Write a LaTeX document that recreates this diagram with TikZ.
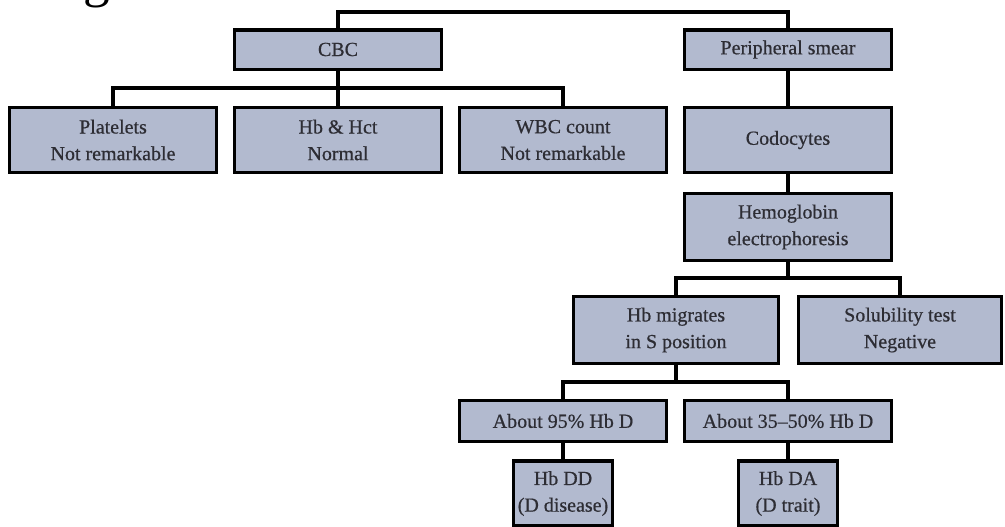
\documentclass[tikz,border=0pt]{standalone}
\usepackage{fontspec}
\setmainfont{Liberation Serif}[BoldFont=Liberation Serif, BoldFeatures={FakeBold=0.6}]
\usepackage{tikz}
\usetikzlibrary{positioning}
\definecolor{boxfill}{RGB}{178,186,207}
\definecolor{inkgray}{RGB}{45,45,52}
\tikzset{
  testnode/.style={draw=black, line width=2.6pt, fill=boxfill, text=inkgray, minimum width=154.9pt, minimum height=29.6pt, inner sep=0pt, align=center, font=\fontsize{15}{20}\selectfont\bfseries},
  resnode/.style={testnode, minimum height=48.4pt},
  tallnode/.style={testnode, minimum height=49.9pt},
  smallnode/.style={testnode, minimum width=74.6pt, minimum height=49pt},
  linkline/.style={line width=2.3pt}
}

\begin{document}
\begin{tikzpicture}[x=0.75pt, y=-0.75pt]
      \useasboundingbox (0,0) rectangle (1005,526);
      \node[anchor=base, font=\fontsize{40}{40}\selectfont] (title) at (97,-4) {g};
      % first level
      \node[testnode] (cbc) at (338,49.5) {CBC};
      \node[testnode] (smear) at (788,49.5) {Peripheral smear};
      \node[resnode] (plt) at (113,140) {Platelets\\Not remarkable};
      \node[resnode] (hbhct) at (338,140) {Hb \& Hct\\Normal};
      \node[resnode] (wbc) at (563,140) {WBC count\\Not remarkable};
      \node[resnode] (codo) at (788,140) {Codocytes};
      \node[tallnode] (hbe) at (788,227) {Hemoglobin\\electrophoresis};
      \node[tallnode, minimum width=153.4pt] (mig) at (676,330) {Hb migrates\\in S position};
      \node[tallnode, minimum width=151.9pt] (sol) at (900,330) {Solubility test\\Negative};
      \node[testnode, minimum height=30.4pt] (hbd95) at (563,421) {About 95\% Hb D};
      \node[testnode, minimum height=30.4pt] (hbd35) at (788,421) {About 35--50\% Hb D};
      \node[smallnode] (hbdd) at (563,493.5) {Hb DD\\(D disease)};
      \node[smallnode] (hbda) at (788,493.5) {Hb DA\\(D trait)};
      % buses
      \coordinate (topbus) at (563,12);
      \coordinate (cbcbus) at (338,88);
      \coordinate (hbebus) at (788,278);
      \coordinate (migbus) at (676,382);
      \draw[linkline] (cbc.north) |- (topbus) -| (smear.north);
      \draw[linkline] (plt.north) |- (cbcbus) -| (wbc.north);
      \draw[linkline] (cbc) -- (hbhct);
      \draw[linkline] (smear) -- (codo);
      \draw[linkline] (codo) -- (hbe);
      \draw[linkline] (hbe) -- (hbebus);
      \draw[linkline] (mig.north) |- (hbebus) -| (sol.north);
      \draw[linkline] (mig) -- (migbus);
      \draw[linkline] (hbd95.north) |- (migbus) -| (hbd35.north);
      \draw[linkline] (hbd95) -- (hbdd);
      \draw[linkline] (hbd35) -- (hbda);
\end{tikzpicture}
\end{document}
